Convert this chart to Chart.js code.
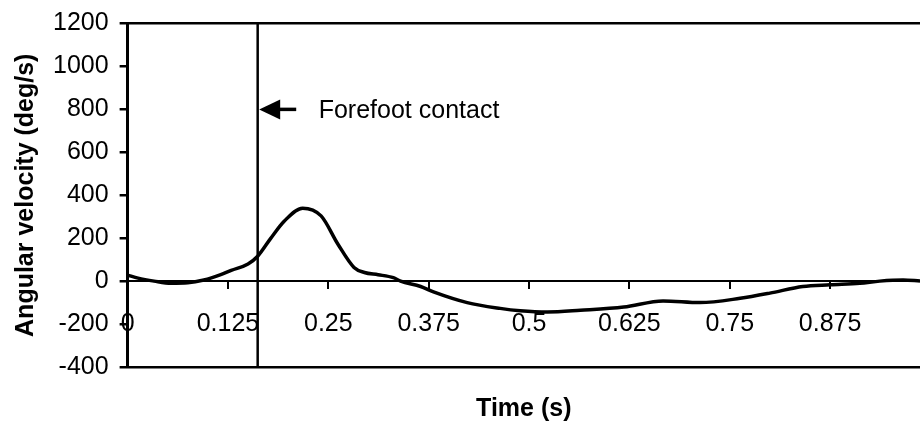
<!DOCTYPE html>
<html>
<head>
<meta charset="utf-8">
<script src="https://cdn.jsdelivr.net/npm/chart.js@4/dist/chart.umd.min.js"></script>
<style>
  html, body { margin: 0; padding: 0; background: #fff; }
  #wrap { width: 920px; height: 428px; }
</style>
</head>
<body>
<div id="wrap"><canvas id="velChart" width="920" height="428"></canvas></div>
<script>
// data
const timeValues = [0, 0.013, 0.033, 0.054, 0.075, 0.095, 0.116, 0.129, 0.15, 0.162,
    0.178, 0.195, 0.218, 0.241, 0.262, 0.282, 0.295, 0.312, 0.331, 0.34, 0.365,
    0.381, 0.423, 0.464, 0.489, 0.523, 0.564, 0.618, 0.667, 0.713, 0.763,
    0.8, 0.841, 0.875, 0.912, 0.937, 0.966, 0.987];
const velocityValues = [28, 14, 0, -10, -8, 5, 30, 50, 80, 116,
    198, 279, 340, 304, 172, 64, 40, 30, 16, 0, -25,
    -50, -100, -127, -138, -144, -136, -121, -92, -100, -80,
    -56, -25, -17, -10, 0, 5, 1];

const xTicks = [0, 0.125, 0.25, 0.375, 0.5, 0.625, 0.75, 0.875];
const yTicks = [-400, -200, 0, 200, 400, 600, 800, 1000, 1200];

const contactTime = 0.162;
const arrowLevel = 800;
const arrowTail = 0.21;
const noteX = 0.238;
const noteText = "Forefoot contact";

const X_MAX = 0.987;
const FONT = "Liberation Sans, Arial, Helvetica, sans-serif";

// arrow + label next to the contact line
const notePlugin = {
    id: "note",
    afterDatasetsDraw(chart) {
        const { ctx, scales: { x, y } } = chart;
        const tipX = x.getPixelForValue(contactTime) + 1.5;
        const tailX = x.getPixelForValue(arrowTail);
        const py = y.getPixelForValue(arrowLevel);
        ctx.save();
        ctx.strokeStyle = "#000";
        ctx.fillStyle = "#000";
        ctx.lineWidth = 3.5;
        ctx.beginPath();
        ctx.moveTo(tipX + 18, py);
        ctx.lineTo(tailX, py);
        ctx.stroke();
        ctx.beginPath();
        ctx.moveTo(tipX, py);
        ctx.lineTo(tipX + 21, py - 10);
        ctx.lineTo(tipX + 21, py + 10);
        ctx.closePath();
        ctx.fill();
        ctx.font = "25px " + FONT;
        ctx.textBaseline = "middle";
        ctx.textAlign = "left";
        ctx.fillText(noteText, x.getPixelForValue(noteX), py + 2);
        ctx.restore();
    }
};

const points = timeValues.map((t, i) => ({ x: t, y: velocityValues[i] }));

new Chart(document.getElementById("velChart"), {
    type: "line",
    data: {
        datasets: [
            {
                data: points,
                borderColor: "#000",
                borderWidth: 3.5,
                pointRadius: 0,
                cubicInterpolationMode: "monotone",
                fill: false
            },
            {
                data: [{ x: contactTime, y: yTicks[0] }, { x: contactTime, y: yTicks[yTicks.length - 1] }],
                borderColor: "#000",
                borderWidth: 2.5,
                pointRadius: 0,
                fill: false
            }
        ]
    },
    options: {
        responsive: false,
        animation: false,
        layout: { padding: { left: 0, top: 18, right: 0, bottom: 0 } },
        plugins: {
            legend: { display: false },
            tooltip: { enabled: false }
        },
        scales: {
            x: {
                type: "linear",
                position: { y: 0 },
                min: 0,
                max: X_MAX,
                afterBuildTicks: (s) => { s.ticks = xTicks.map(v => ({ value: v })); },
                grid: { drawOnChartArea: false, tickLength: 7, color: "#000", lineWidth: 2 },
                border: { display: true, color: "#000", width: 2 },
                ticks: {
                    color: "#000",
                    padding: 21,
                    maxRotation: 0,
                    autoSkip: false,
                    font: { family: FONT, size: 25 },
                    callback: (v) => String(v)
                }
            },
            xb: {
                type: "linear",
                position: "bottom",
                min: 0,
                max: X_MAX,
                grid: { display: false, drawTicks: false },
                border: { display: false },
                ticks: { display: false },
                title: {
                    display: true,
                    text: "Time (s)",
                    color: "#000",
                    font: { family: FONT, size: 25, weight: "bold" },
                    padding: { top: 27, bottom: 4 }
                }
            },
            y: {
                min: yTicks[0],
                max: yTicks[yTicks.length - 1],
                afterBuildTicks: (s) => { s.ticks = yTicks.map(v => ({ value: v })); },
                grid: {
                    color: (c) => (c.tick && (c.tick.value === 1200 || c.tick.value === -400)) ? "#000" : "rgba(0,0,0,0)",
                    tickColor: "#000",
                    tickLength: 8,
                    lineWidth: 2.5
                },
                border: { display: true, color: "#000", width: 3 },
                ticks: {
                    color: "#000",
                    padding: 11,
                    font: { family: FONT, size: 25, lineHeight: 1 },
                    callback: (v) => String(v)
                },
                title: {
                    display: true,
                    text: "Angular velocity (deg/s)",
                    color: "#000",
                    font: { family: FONT, size: 25, weight: "bold" },
                    padding: { top: 11, bottom: 1 }
                }
            }
        }
    },
    plugins: [notePlugin]
});
</script>
</body>
</html>
